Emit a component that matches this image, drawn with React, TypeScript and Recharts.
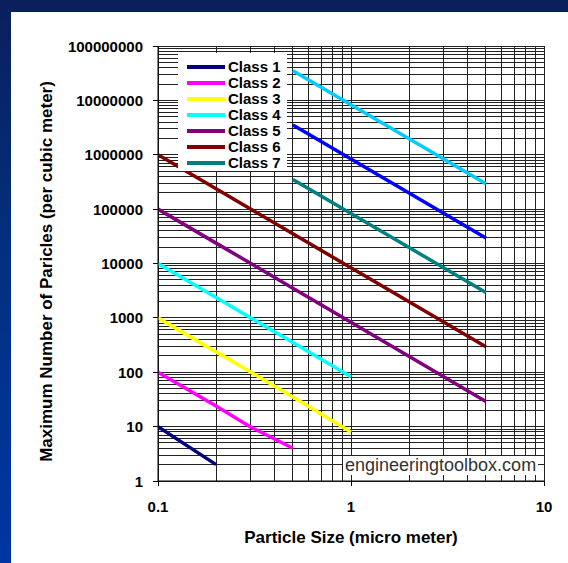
import React from 'react';
import { LineChart, Line, XAxis, YAxis, CartesianGrid, Legend, Label } from 'recharts';

// Particle size (micro meter) sampling points
const particleSizes = [0.1, 0.2, 0.3, 0.5, 1, 5];

// Maximum number of particles per cubic meter, aligned with particleSizes
const class1 = [10, 2, null, null, null, null];
const class2 = [100, 24, 10, 4, null, null];
const class3 = [1000, 237, 102, 35, 8, null];
const class4 = [10000, 2370, 1020, 352, 83, null];
const class5 = [100000, 23700, 10200, 3520, 832, 29];
const class6 = [1000000, 237000, 102000, 35200, 8320, 293];
const class7 = [null, null, null, 352000, 83200, 2930];
const class8 = [null, null, null, 3520000, 832000, 29300];
const class9 = [null, null, null, 35200000, 8320000, 293000];

const seriesNames = ['Class 1', 'Class 2', 'Class 3', 'Class 4', 'Class 5', 'Class 6', 'Class 7', 'Class 8', 'Class 9'];
const seriesValues = [class1, class2, class3, class4, class5, class6, class7, class8, class9];
const seriesColors = ['#000080', '#FF00FF', '#FFFF00', '#00FFFF', '#800080', '#800000', '#008080', '#0000FF', '#00CCFF'];
const legendCount = 7;

// Tick labels
const xMajorTicks = [0.1, 1, 10];
const yMajorTicks = [1, 10, 100, 1000, 10000, 100000, 1000000, 10000000, 100000000];
const minorSteps = [1, 2, 3, 4, 5, 6, 7, 8, 9];

const xTitle = 'Particle Size (micro meter)';
const yTitle = 'Maximum Number of Paricles (per cubic meter)';
const watermark = 'engineeringtoolbox.com';

const FONT = '"Liberation Sans", Arial, sans-serif';

const buildLogTicks = (majors: number[]) => {
  const out: number[] = [];
  for (let i = 0; i < majors.length - 1; i++) {
    minorSteps.forEach((m) => out.push(majors[i] * m));
  }
  out.push(majors[majors.length - 1]);
  return out;
};
const xGridTicks = buildLogTicks(xMajorTicks);
const yGridTicks = buildLogTicks(yMajorTicks);

const isMajor = (v: number) => {
  const l = Math.log10(v);
  return Math.abs(l - Math.round(l)) < 1e-9;
};

const tableData = particleSizes.map((s, i) => {
  const row: Record<string, number | null> = { size: s };
  seriesValues.forEach((vals, k) => {
    row['c' + (k + 1)] = vals[i];
  });
  return row;
});

const YTick = (props: any) => {
  const { x, y, payload } = props;
  if (!isMajor(payload.value)) return <g />;
  return (
    <g>
      <line x1={x + 10} x2={x + 15} y1={y} y2={y} stroke="#000" strokeWidth={1} shapeRendering="crispEdges" />
      <text x={x} y={y} textAnchor="end" dominantBaseline="central" fontFamily={FONT} fontSize={15} fontWeight="bold" fill="#000">
        {String(payload.value)}
      </text>
    </g>
  );
};

const XTick = (props: any) => {
  const { x, y, payload } = props;
  if (!isMajor(payload.value)) return <g />;
  return (
    <g>
      <line x1={x} x2={x} y1={y - 5} y2={y} stroke="#000" strokeWidth={1} shapeRendering="crispEdges" />
      <text x={x} y={y + 20} textAnchor="middle" dominantBaseline="central" fontFamily={FONT} fontSize={15} fontWeight="bold" fill="#000">
        {String(payload.value)}
      </text>
    </g>
  );
};

const renderLegend = () => (
  <div style={{ background: '#fff', padding: '6px 6px 0px 9px', fontFamily: FONT }}>
    {seriesNames.slice(0, legendCount).map((name, i) => (
      <div key={name} style={{ display: 'flex', alignItems: 'center', height: 16 }}>
        <div style={{ width: 38, height: 4, background: seriesColors[i], marginRight: 3 }} />
        <span style={{ fontSize: 15, fontWeight: 'bold', color: '#000', lineHeight: '16px', whiteSpace: 'nowrap' }}>{name}</span>
      </div>
    ))}
  </div>
);

export default function App() {
  return (
    <div
      style={{
        position: 'absolute',
        left: 0,
        top: 0,
        width: 568,
        height: 563,
        background: 'linear-gradient(to bottom, #0b1f5c 0%, #02307f 45%, #0036a3 100%)',
        overflow: 'hidden',
      }}
    >
      <div style={{ position: 'absolute', left: 11, top: 12, right: 0, bottom: 0, background: '#fff' }} />
      <div style={{ position: 'absolute', left: 0, top: 0 }}>
        <LineChart width={568} height={563} data={tableData} margin={{ top: 46, right: 24, bottom: 52, left: 98 }}>
          <CartesianGrid stroke="#222" strokeWidth={1} shapeRendering="crispEdges" />
          <XAxis
            dataKey="size"
            type="number"
            scale="log"
            domain={[0.1, 10]}
            allowDataOverflow
            ticks={xGridTicks}
            interval={0}
            height={30}
            tickSize={5}
            tickMargin={0}
            tickLine={{ stroke: 'transparent' }}
            axisLine={{ stroke: '#000' }}
            tick={<XTick />}
          >
            <Label
              content={(p: any) => {
                const vb = p.viewBox;
                return (
                  <text x={vb.x + vb.width / 2} y={vb.y + 56} textAnchor="middle" dominantBaseline="central" fontFamily={FONT} fontSize={17} fontWeight="bold" fill="#000">
                    {xTitle}
                  </text>
                );
              }}
            />
          </XAxis>
          <YAxis
            type="number"
            scale="log"
            domain={[1, 100000000]}
            allowDataOverflow
            ticks={yGridTicks}
            interval={0}
            width={60}
            tickSize={5}
            tickMargin={10}
            tickLine={{ stroke: 'transparent' }}
            axisLine={{ stroke: '#000' }}
            tick={<YTick />}
          >
            <Label
              content={(p: any) => {
                const vb = p.viewBox;
                const cx = vb.x - 52;
                const cy = vb.y + vb.height / 2 + 8;
                return (
                  <text x={cx} y={cy} transform={`rotate(-90, ${cx}, ${cy})`} textAnchor="middle" dominantBaseline="central" fontFamily={FONT} fontSize={17} fontWeight="bold" fill="#000">
                    {yTitle}
                  </text>
                );
              }}
            />
          </YAxis>
          <Legend layout="vertical" align="center" verticalAlign="middle" wrapperStyle={{ left: 178, top: 53, width: 'auto' }} content={renderLegend} />
          {seriesNames.map((name, k) => (
            <Line
              key={name}
              name={name}
              dataKey={'c' + (k + 1)}
              stroke={seriesColors[k]}
              strokeWidth={3.5}
              dot={false}
              activeDot={false}
              isAnimationActive={false}
              legendType="line"
            />
          ))}
        </LineChart>
      </div>
      <div
        style={{
          position: 'absolute',
          left: 343,
          top: 456,
          width: 195,
          height: 19,
          background: '#fff',
          fontFamily: FONT,
          fontSize: 18,
          lineHeight: '19px',
          color: '#333',
          paddingLeft: 2,
          boxSizing: 'border-box',
          whiteSpace: 'nowrap',
        }}
      >
        {watermark}
      </div>
    </div>
  );
}
